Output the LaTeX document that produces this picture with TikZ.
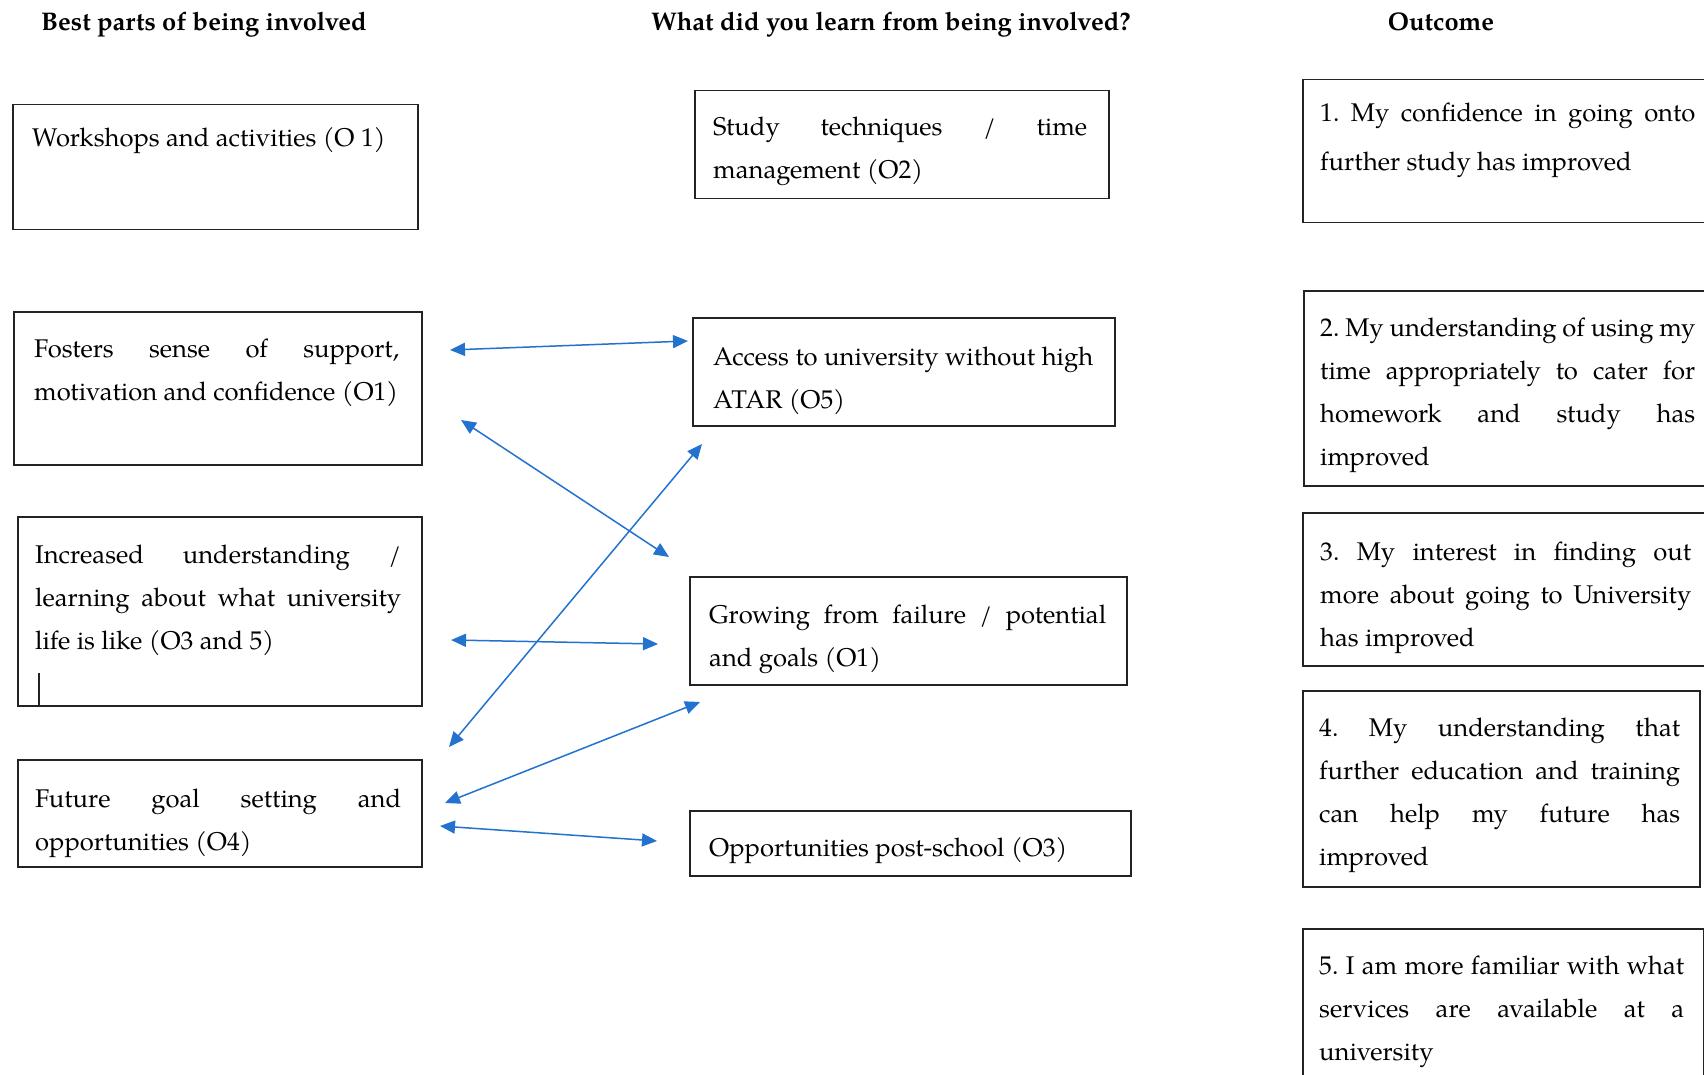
\documentclass[tikz,border=0pt]{standalone}
\usepackage{fontspec}
\setmainfont{texgyrepagella}[Extension=.otf, UprightFont=*-regular, BoldFont=*-bold, ItalicFont=*-italic, BoldItalicFont=*-bolditalic]
\usetikzlibrary{arrows.meta}

% a justified line: word spaces stretch equally to fill the line
\newcommand\jl[1]{\noindent\hbox to\linewidth{\frenchspacing\spaceskip=.25em plus 1fil minus .07em\relax #1}\par}
% a last (ragged) line
\newcommand\rl[1]{\noindent\hbox{\frenchspacing\spaceskip=.25em\relax #1}\par}

\definecolor{linkblue}{RGB}{34,114,206}
\definecolor{boxline}{RGB}{35,35,35}

\tikzset{
  box/.style={draw=boxline, line width=1.5pt, inner sep=0pt, anchor=north west},
  txt/.style={anchor=base west, inner sep=0pt, font=\fontsize{25.6}{43}\selectfont},
  head/.style={anchor=base, inner sep=0pt, font=\fontsize{25.5}{30}\selectfont\bfseries},
  link/.style={draw=linkblue, line width=1.5pt, {Triangle[length=15pt,width=13pt]}-{Triangle[length=15pt,width=13pt]}},
}

\begin{document}
\begin{tikzpicture}[x=1pt, y=-1pt]
\useasboundingbox (0,0) rectangle (1704,1075);
\clip (0,0) rectangle (1704,1075);

% column headings
\node[head] (h1) at (204,31) {Best parts of being involved};
\node[head] (h2) at (891,31) {What did you learn from being involved?};
\node[head] (h3) at (1441,31) {Outcome};

% left column
\node[box, minimum width=405pt, minimum height=125pt] (wk) at (12,104) {};
\node[txt, text width=370pt] (wkt) at (32,147) {\rl{Workshops and activities (O 1)}};

\node[box, minimum width=408pt, minimum height=153pt] (fo) at (13,311) {};
\node[txt, text width=365pt] (fot) at (34,357) {%
  \jl{Fosters sense of support,}\rl{motivation and confidence (O1)}};

\node[box, minimum width=404pt, minimum height=189pt] (inc) at (17,516) {};
\node[txt, text width=366pt] (inct) at (35,563) {%
  \jl{Increased understanding /}\jl{learning about what university}\rl{life is like (O3 and 5)}};
\draw[draw=boxline, line width=1.5pt] (39,673) coordinate (cur) -- (cur |- inc.south);

\node[box, minimum width=404pt, minimum height=107pt] (fut) at (17,759) {};
\node[txt, text width=366pt] (futt) at (35,807) {%
  \jl{Future goal setting and}\rl{opportunities (O4)}};

% middle column
\node[box, minimum width=414pt, minimum height=108pt] (st) at (694,90) {};
\node[txt, text width=374pt] (stt) at (713,136) {%
  \jl{Study techniques / time}\rl{management (O2)}};

\node[box, minimum width=422pt, minimum height=108pt] (ac) at (692,317) {};
\node[txt, text width=380pt] (act) at (713,365) {%
  \jl{Access to university without high}\rl{ATAR (O5)}};

\node[box, minimum width=437pt, minimum height=108pt] (gr) at (689,576) {};
\node[txt, text width=397pt] (grt) at (709,623) {%
  \jl{Growing from failure / potential}\rl{and goals (O1)}};

\node[box, minimum width=441pt, minimum height=65pt] (op) at (689,810) {};
\node[txt, text width=400pt] (opt) at (709,856) {\rl{Opportunities post-school (O3)}};

% right column
\node[box, minimum width=420pt, minimum height=143pt] (o1) at (1302,79) {};
\node[txt, text width=375pt, font=\fontsize{25.6}{49}\selectfont] (o1t) at (1320,122) {%
  \jl{1. My confidence in going onto}\rl{further study has improved}};

\node[box, minimum width=420pt, minimum height=195pt] (o2) at (1303,290) {};
\node[txt, text width=375pt] (o2t) at (1320,336) {%
  \jl{2. My understanding of using my}\jl{time appropriately to cater for}\jl{homework and study has}\rl{improved}};

\node[box, minimum width=420pt, minimum height=153pt] (o3) at (1302,512) {};
\node[txt, text width=371pt] (o3t) at (1320,560) {%
  \jl{3. My interest in finding out}\jl{more about going to University}\rl{has improved}};

\node[box, minimum width=397pt, minimum height=196pt] (o4) at (1302,690) {};
\node[txt, text width=361pt] (o4t) at (1319,736) {%
  \jl{4. My understanding that}\jl{further education and training}\jl{can help my future has}\rl{improved}};

\node[box, minimum width=401pt, minimum height=170pt] (o5) at (1302,928) {};
\node[txt, text width=365pt] (o5t) at (1319,974) {%
  \jl{5. I am more familiar with what}\jl{services are available at a}\rl{university}};

% two-headed links between the first two columns
\coordinate (a1l) at (450,350);  \coordinate (a1r) at (688,341);
\coordinate (a2l) at (461,420);  \coordinate (a2r) at (669,557);
\coordinate (a3l) at (451,640);  \coordinate (a3r) at (658,644);
\coordinate (a4l) at (449,747);  \coordinate (a4r) at (702,444);
\coordinate (a5l) at (445,803);  \coordinate (a5r) at (700,702);
\coordinate (a6l) at (440,826);  \coordinate (a6r) at (657,841);
\foreach \i in {1,...,6} \draw[link] (a\i l) -- (a\i r);
\end{tikzpicture}
\end{document}
